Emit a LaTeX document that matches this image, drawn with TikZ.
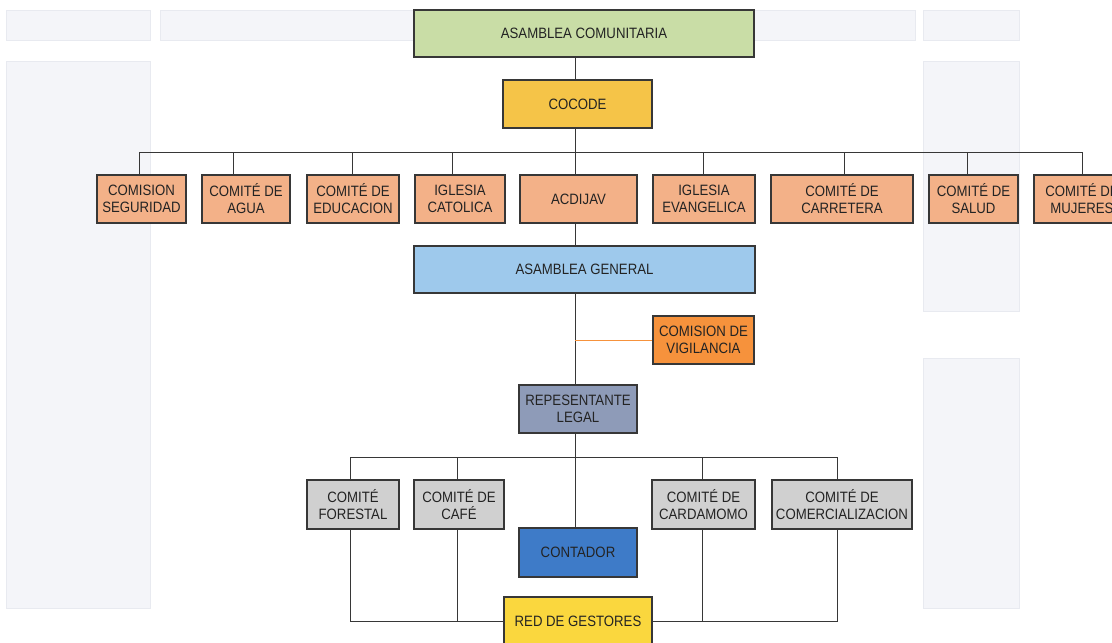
\documentclass[tikz,border=0pt]{standalone}
\usepackage{fontspec}
\setmainfont{Liberation Sans}[FakeStretch=0.88]
\usetikzlibrary{backgrounds}
\definecolor{cGreen}{RGB}{201,221,166}
\definecolor{cGold}{RGB}{245,196,72}
\definecolor{cSalmon}{RGB}{243,177,136}
\definecolor{cBlue}{RGB}{158,201,236}
\definecolor{cOrange}{RGB}{246,146,60}
\definecolor{cSlate}{RGB}{142,155,184}
\definecolor{cGrey}{RGB}{208,208,208}
\definecolor{cDeep}{RGB}{62,123,200}
\definecolor{cYellow}{RGB}{250,215,62}
\definecolor{cLine}{RGB}{55,55,55}
\definecolor{cText}{RGB}{35,35,35}
\definecolor{cFaint}{RGB}{244,245,249}
\definecolor{cFaintB}{RGB}{232,234,240}
\begin{document}
\begin{tikzpicture}[x=1pt,y=-1pt,
  box/.style={draw=cLine, line width=1.1pt, rectangle, inner sep=0pt, align=center,
    text=cText, font=\fontsize{15}{17}\selectfont},
  link/.style={draw=cLine, line width=1pt},
  faint/.style={fill=cFaint, draw=cFaintB, line width=0.6pt}]
\useasboundingbox (0,0) rectangle (1112,643);
\coordinate (spine) at (575,0);
% nodes
\node[box, fill=cGreen, minimum width=340pt, minimum height=47pt] (ac) at (584,33.5) {ASAMBLEA COMUNITARIA};
\node[box, fill=cGold, minimum width=149pt, minimum height=48pt] (cocode) at (577.5,104) {COCODE};
\coordinate (bus1L) at (139,152);
\coordinate (bus1R) at (1082,152);
\node[box, fill=cSalmon, minimum width=89pt, minimum height=48pt] (seg) at (141.5,199) {COMISION\\SEGURIDAD};
\node[box, fill=cSalmon, minimum width=88pt, minimum height=48pt] (agua) at (246,199) {COMITÉ DE\\AGUA};
\node[box, fill=cSalmon, minimum width=92pt, minimum height=48pt] (edu) at (353,199) {COMITÉ DE\\EDUCACION};
\node[box, fill=cSalmon, minimum width=90pt, minimum height=48pt] (cat) at (460,199) {IGLESIA\\CATOLICA};
\node[box, fill=cSalmon, minimum width=117pt, minimum height=48pt] (acd) at (578.5,199) {ACDIJAV};
\node[box, fill=cSalmon, minimum width=102pt, minimum height=48pt] (eva) at (704,199) {IGLESIA\\EVANGELICA};
\node[box, fill=cSalmon, minimum width=142pt, minimum height=48pt] (car) at (842,199) {COMITÉ DE\\CARRETERA};
\node[box, fill=cSalmon, minimum width=89pt, minimum height=48pt] (sal) at (973.5,199) {COMITÉ DE\\SALUD};
\node[box, fill=cSalmon, minimum width=96pt, minimum height=48pt] (muj) at (1082,199) {COMITÉ DE\\MUJERES};
\node[box, fill=cBlue, minimum width=341pt, minimum height=47pt] (ag) at (584.5,269.5) {ASAMBLEA GENERAL};
\node[box, fill=cOrange, minimum width=101pt, minimum height=48pt] (vig) at (703.5,340) {COMISION DE\\VIGILANCIA};
\node[box, fill=cSlate, minimum width=118pt, minimum height=48pt] (rep) at (578,409) {REPESENTANTE\\LEGAL};
\coordinate (bus2L) at (350,457);
\coordinate (bus2R) at (837,457);
\node[box, fill=cGrey, minimum width=92pt, minimum height=49pt] (for) at (353,504.5) {COMITÉ\\FORESTAL};
\node[box, fill=cGrey, minimum width=90pt, minimum height=49pt] (caf) at (459,504.5) {COMITÉ DE\\CAFÉ};
\node[box, fill=cGrey, minimum width=103pt, minimum height=49pt] (card) at (703.5,504.5) {COMITÉ DE\\CARDAMOMO};
\node[box, fill=cGrey, minimum width=140pt, minimum height=49pt] (com) at (842,504.5) {COMITÉ DE\\COMERCIALIZACION};
\node[box, fill=cDeep, minimum width=118pt, minimum height=49pt] (cont) at (578,552.5) {CONTADOR};
\node[box, fill=cYellow, minimum width=148pt, minimum height=48pt] (red) at (578,621) {RED DE GESTORES};
\begin{pgfonlayer}{background}
\fill[white] (0,0) rectangle (1112,643);
% faint background panels
\path[faint] (6,10) rectangle (150,40);
\path[faint] (160,10) rectangle (915,40);
\path[faint] (923,10) rectangle (1019,40);
\path[faint] (6,61) rectangle (150,608);
\path[faint] (923,61) rectangle (1019,311);
\path[faint] (923,358) rectangle (1019,608);
% connectors
\draw[link] (ac.south -| spine) -- (cocode.north -| spine);
\draw[link] (cocode.south -| spine) -- (acd.north -| spine);
\draw[link] (bus1L) -- (bus1R);
\foreach \n/\x in {seg/139,agua/233,edu/352,cat/452,eva/703,car/844,sal/967,muj/1082}
  \draw[link] (\x,152) -- (\n.north -| \x,0);
\draw[link] (acd.south -| spine) -- (ag.north -| spine);
\draw[link] (ag.south -| spine) -- (rep.north -| spine);
\draw[draw=cOrange, line width=1pt] (575,340) -- (vig.west);
\draw[link] (rep.south -| spine) -- (cont.north -| spine);
\draw[link] (bus2L) -- (bus2R);
\draw[link] (bus2L) -- (for.north -| bus2L);
\draw[link] (457,457) -- (caf.north -| 457,0);
\draw[link] (702,457) -- (card.north -| 702,0);
\draw[link] (bus2R) -- (com.north -| bus2R);
\draw[link] (for.south -| bus2L) |- (red.west);
\draw[link] (caf.south -| 457,0) -- (457,621);
\draw[link] (com.south -| bus2R) |- (red.east);
\draw[link] (card.south -| 702,0) -- (702,621);
\end{pgfonlayer}
\end{tikzpicture}
\end{document}
